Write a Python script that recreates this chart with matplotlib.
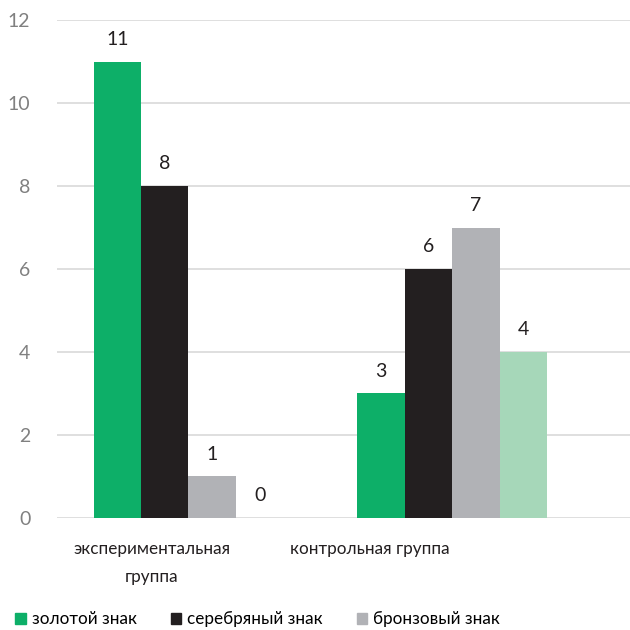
import matplotlib.pyplot as plt
import numpy as np
from matplotlib.patches import Patch

plt.rcParams['font.family'] = ['Lato', 'DejaVu Sans']

# данные
groups = ['экспериментальная\nгруппа', 'контрольная группа']
gold = [11, 3]
silver = [8, 6]
bronze = [1, 7]
extra = [0, 4]
legend_labels = ['золотой знак', 'серебряный знак', 'бронзовый знак']

colors = ['#0daf68', '#231f20', '#b1b2b6', '#a6d7b9']

fig = plt.figure(figsize=(6.3, 6.3), dpi=100)
ax = fig.add_axes([0.09, 0.178, 0.91, 0.79])

x = np.arange(len(groups))
w = 0.18
series = [gold, silver, bronze, extra]
for i, vals in enumerate(series):
    pos = x + (i - 1.5) * w
    ax.bar(pos, vals, width=w, color=colors[i], zorder=2)
    for p, v in zip(pos, vals):
        ax.text(p, v + 0.33, str(v), ha='center', va='bottom',
                fontsize=14, color='#231f20')

ax.set_ylim(0, 12)
ax.set_xlim(-0.5, 1.675)
ax.set_yticks(range(0, 13, 2))
# подписи групп смещены влево, как в оригинале
ax.set_xticks(x + np.array([-0.14, -0.314]))
ax.set_xticklabels(groups, fontsize=12.3, color='#231f20', linespacing=1.9)
ax.tick_params(axis='y', labelsize=14, labelcolor='#808080', length=0, pad=19)
ax.tick_params(axis='x', length=0, pad=17)
ax.grid(axis='y', color='#d9d9d9', linewidth=1.2, zorder=0)
for s in ax.spines.values():
    s.set_visible(False)

handles = [Patch(color=c) for c in colors[:3]]
fig.legend(handles, legend_labels, loc='lower left', bbox_to_anchor=(0.0, -0.02),
           ncol=3, frameon=False, fontsize=12.3, handlelength=0.6, handleheight=0.6,
           handletextpad=0.35, columnspacing=2.0)

plt.savefig('out.png', dpi=100)
